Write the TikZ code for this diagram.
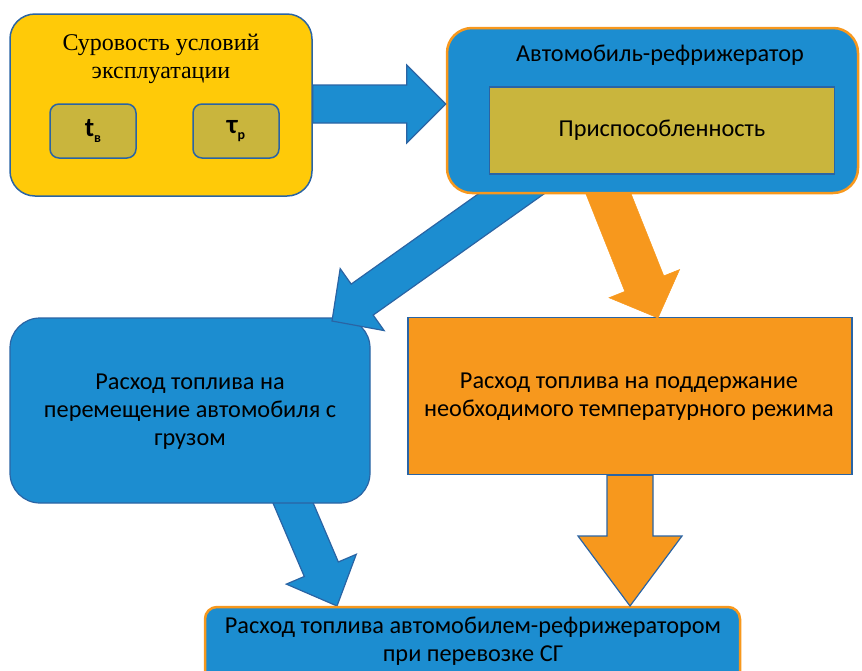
\documentclass[tikz,border=0pt]{standalone}
\usepackage{fontspec}
\setmainfont{Liberation Serif}
\newfontfamily\calib{Carlito}
\usetikzlibrary{calc}
\definecolor{myyellow}{HTML}{FFCA08}
\definecolor{myblue}{HTML}{1C8DD0}
\definecolor{mydblue}{HTML}{2A64A4}
\definecolor{myolive}{HTML}{C9B53D}
\definecolor{myorange}{HTML}{F7981D}
\newcommand\blkarrow[6]{%
  \coordinate (bas) at (#2);
  \coordinate (bat) at (#3);
  \coordinate (ban) at ($(bat)!#6!(bas)$);
  \draw[#1] ($(bas)!#4!90:(bat)$) -- ($(ban)!#4!-90:(bas)$) -- ($(ban)!#5!-90:(bas)$)
    -- (bat) -- ($(ban)!#5!90:(bas)$) -- ($(ban)!#4!90:(bas)$) -- ($(bas)!#4!-90:(bat)$) -- cycle;
}
\begin{document}
\begin{tikzpicture}[x=1pt,y=-1pt,
  yellowbox/.style={draw=mydblue,line width=1.5pt,fill=myyellow,rounded corners=25pt,inner sep=0pt},
  bluebox/.style={draw=myorange,line width=2.5pt,fill=myblue,rounded corners=25pt,inner sep=0pt},
  olivesmall/.style={draw=mydblue,line width=1.5pt,fill=myolive,rounded corners=9pt,minimum width=86pt,minimum height=54pt,inner sep=0pt},
  olivebox/.style={draw=mydblue,line width=1.5pt,fill=myolive,inner sep=0pt},
  bluebox3/.style={draw=mydblue,line width=1.2pt,fill=myblue,rounded corners=30pt,inner sep=0pt},
  orangebox/.style={draw=mydblue,line width=1.5pt,fill=myorange,inner sep=0pt},
  bottombox/.style={draw=myorange,line width=2.5pt,fill=myblue,rounded corners=12pt,inner sep=0pt},
  serift/.style={font=\fontsize{24}{28}\selectfont,align=center,inner sep=0pt},
  sanst/.style={font=\calib\fontsize{24.3}{28}\selectfont,align=center,inner sep=0pt},
  symt/.style={font=\calib\bfseries\fontsize{27}{28}\selectfont,inner sep=0pt},
  bluearrow/.style={fill=myblue,draw=mydblue,line width=1.2pt,line join=miter},
  orangearrow/.style={fill=myorange,draw=myorange,line width=0.5pt,line join=miter},
  orangearrowb/.style={fill=myorange,draw=mydblue,line width=1.2pt,line join=miter}
]
\useasboundingbox (0,0) rectangle (862,670);
% yellow box
\node[yellowbox,minimum width=302pt,minimum height=182pt] (b1) at (161,105) {};
\node[serift] (b1t) at (161,59) {Суровость условий\\эксплуатации};
\node[olivesmall] (tv) at (93,131) {};
\node[olivesmall] (tp) at (236,131) {};
\node[symt] at (tv) {t\raisebox{-0.4ex}{\fontsize{14}{14}\selectfont в}};
\node[symt] at (tp) {τ\raisebox{-0.4ex}{\fontsize{14}{14}\selectfont р}};
% lower-left arrow (behind box 3)
\coordinate (a4s) at (279,470);
\coordinate (a4t) at (337,606);
\blkarrow{bluearrow}{a4s}{a4t}{18.5pt}{38pt}{40pt}
% boxes 3 and 4
\node[bluebox3,minimum width=360pt,minimum height=185pt] (b3) at (190,410.5) {};
\node[sanst] (b3t) at (190,412) {Расход топлива на\\перемещение автомобиля с\\грузом};
\node[orangebox,minimum width=444pt,minimum height=157pt] (b4) at (630,396) {};
\node[sanst] (b4t) at (629,397) {Расход топлива на поддержание\\необходимого температурного режима};
% arrows from box 2 (drawn before box 2)
\coordinate (a2s) at (573,150);
\coordinate (a2t) at (332,321);
\blkarrow{bluearrow}{a2s}{a2t}{19pt}{38pt}{37pt}
\coordinate (a3s) at (591,150);
\coordinate (a3t) at (658,318);
\blkarrow{orangearrow}{a3s}{a3t}{21pt}{38pt}{37pt}
% box 2
\node[bluebox,minimum width=411pt,minimum height=165pt] (b2) at (652.5,110.5) {};
\node[sanst] (b2t) at (660,55) {Автомобиль-рефрижератор};
\node[olivebox,minimum width=345pt,minimum height=87pt] (b2i) at (662,130.5) {};
\node[sanst] at (b2i) {Приспособленность};
% box 5
\node[bottombox,minimum width=535pt,minimum height=84pt] (b5) at (472.5,649) {};
\node[sanst] (b5t) at (473,641) {Расход топлива автомобилем-рефрижератором\\при перевозке СГ};
% other arrows
\coordinate (a1s) at ($(b1.east)+(0,-1)$);
\coordinate (a1t) at (b2.west|-a1s);
\blkarrow{bluearrow}{a1s}{a1t}{19pt}{39pt}{39pt}
\coordinate (a5s) at (b4.south);
\coordinate (a5t) at (630,606);
\blkarrow{orangearrowb}{a5s}{a5t}{23pt}{52pt}{70pt}
\end{tikzpicture}
\end{document}
